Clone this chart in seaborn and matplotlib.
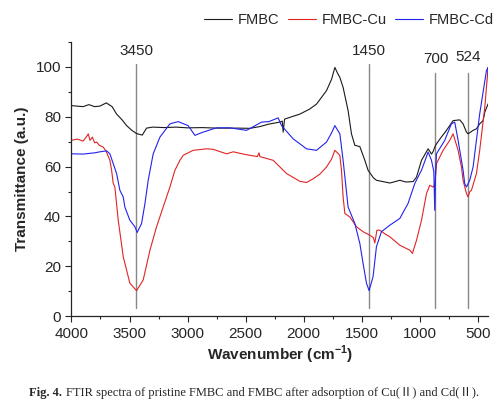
import numpy as np
import pandas as pd
import matplotlib
matplotlib.use("Agg")
import matplotlib.pyplot as plt
import seaborn as sns

# values (wavenumber in cm-1, transmittance in a.u.)
fmbc_wn = [4000, 3900, 3850, 3800, 3755, 3700, 3650, 3611, 3560, 3525, 3480, 3439, 3390, 3353, 3300,
           3200, 3100, 3000, 2875, 2750, 2570, 2464, 2378, 2300, 2206, 2185, 2177, 2165, 2100, 2034,
           1950, 1890, 1804, 1760, 1732, 1710, 1689, 1661, 1618, 1589, 1560, 1517, 1474, 1446, 1400,
           1374, 1320, 1259, 1210, 1173, 1120, 1058, 1029, 986, 929, 900, 886, 870, 857, 820, 771,
           714, 657, 628, 599, 585, 542, 513, 485, 456, 441, 413]
fmbc_t = [84.4, 84.0, 84.8, 84.0, 84.2, 85.5, 84.0, 81.0, 78.5, 76.4, 74.5, 73.2, 72.6, 75.4, 75.8,
          75.6, 75.8, 75.5, 75.6, 75.4, 75.4, 75.3, 76.0, 77.0, 77.8, 78.2, 73.8, 79.0, 80.0, 81.0,
          83.0, 85.0, 90.4, 95.0, 99.7, 97.5, 95.7, 91.7, 82.4, 73.1, 68.5, 68.0, 62.5, 58.5, 55.5,
          54.5, 54.0, 53.4, 54.0, 54.5, 53.8, 54.0, 55.8, 62.5, 67.1, 65.0, 66.0, 68.0, 69.1, 71.5, 74.5,
          78.4, 78.7, 77.1, 73.8, 73.1, 74.5, 75.1, 77.1, 78.4, 81.8, 85.1]

cu_wn = [4000, 3950, 3900, 3870, 3855, 3840, 3820, 3800, 3783, 3760, 3726, 3700, 3669, 3654, 3640,
         3626, 3597, 3554, 3497, 3439, 3382, 3324, 3267, 3210, 3152, 3109, 3066, 3038, 2952, 2837,
         2780, 2664, 2607, 2500, 2400, 2385, 2378, 2263, 2148, 2034, 1976, 1919, 1860, 1804, 1760,
         1732, 1710, 1689, 1675, 1661, 1646, 1603, 1546, 1489, 1431, 1400, 1388, 1370, 1345, 1300, 1259,
         1173, 1087, 1064, 1029, 986, 943, 915, 886, 870, 857, 800, 743, 714, 671, 642, 628, 599,
         585, 570, 556, 513, 485, 441, 413]
cu_t = [70.5, 71.0, 70.2, 72.0, 73.1, 70.5, 71.8, 69.5, 69.8, 68.5, 67.8, 66.0, 62.5, 58.5, 53.2,
        51.8, 38.5, 23.9, 13.3, 10.3, 14.6, 26.5, 35.9, 43.8, 51.8, 58.5, 62.5, 64.5, 66.5, 67.1,
        66.9, 65.1, 65.9, 64.8, 64.0, 65.5, 64.0, 62.5, 57.2, 54.1, 53.6, 55.1, 57.0, 59.8, 63.0,
        66.5, 65.5, 64.5, 58.5, 47.8, 41.2, 39.8, 35.9, 33.9, 32.5, 31.5, 29.4, 34.5, 34.5, 33.0, 31.9,
        28.5, 26.5, 25.2, 30.5, 38.5, 49.2, 52.5, 51.8, 53.0, 61.2, 66.5, 70.5, 73.1, 66.5, 59.8, 54.5, 49.2,
        47.8, 50.0, 50.5, 57.2, 66.5, 83.8, 99.7]

cd_wn = [4000, 3900, 3800, 3755, 3697, 3669, 3611, 3583, 3554, 3540, 3497, 3454, 3434, 3396, 3367,
         3339, 3296, 3238, 3152, 3081, 2995, 2937, 2866, 2751, 2636, 2492, 2363, 2300, 2220, 2191,
         2091, 1976, 1890, 1804, 1760, 1732, 1689, 1661, 1618, 1560, 1517, 1489, 1460, 1437, 1403,
         1374, 1331, 1259, 1173, 1102, 1044, 1001, 986, 929, 900, 880, 872, 865, 857, 786, 729,
         700, 671, 628, 614, 599, 571, 542, 485, 427, 413, 405]
cd_t = [65.1, 65.0, 65.5, 65.9, 66.3, 65.1, 57.2, 50.5, 47.8, 43.8, 38.5, 35.9, 33.6, 37.2, 45.2,
        54.5, 65.1, 71.8, 77.1, 78.0, 76.4, 72.5, 73.8, 75.5, 75.5, 74.5, 77.8, 78.0, 79.5, 76.4,
        71.1, 67.1, 66.5, 69.8, 73.5, 76.4, 73.1, 62.5, 43.8, 37.2, 29.2, 21.2, 13.3, 10.3, 15.9,
        27.9, 33.9, 36.5, 39.2, 45.2, 53.2, 57.2, 58.5, 65.8, 62.5, 58.0, 42.5, 58.0, 65.1, 70.5, 77.1,
        77.8, 70.5, 58.5, 53.2, 51.8, 54.5, 59.8, 81.1, 98.4, 99.7, 86.4]

series_names = ["FMBC", "FMBC-Cu", "FMBC-Cd"]
series_colors = ["#1a1a1a", "#e02424", "#2222ee"]

peak_wn = [3441, 1440, 866, 588]
peak_labels = ["3450", "1450", "700", "524"]
peak_line_top = [101, 101, 97.6, 97.6]
peak_label_y = [103.5, 103.5, 100.3, 101.0]

caption_bold = "Fig. 4."
caption_rest = "FTIR spectra of pristine FMBC and FMBC after adsorption of Cu(Ⅱ) and Cd(Ⅱ)."

df = pd.concat([
    pd.DataFrame({"wn": fmbc_wn, "T": fmbc_t, "sample": series_names[0]}),
    pd.DataFrame({"wn": cu_wn, "T": cu_t, "sample": series_names[1]}),
    pd.DataFrame({"wn": cd_wn, "T": cd_t, "sample": series_names[2]}),
], ignore_index=True)

sns.set_style("ticks")
plt.rcParams["font.family"] = ["Liberation Sans", "DejaVu Sans"]

fig = plt.figure(figsize=(5.03, 4.13), dpi=100)
ax = fig.add_axes([0.142, 0.234, 0.829, 0.665])

sns.lineplot(data=df, x="wn", y="T", hue="sample", palette=series_colors,
             hue_order=series_names, sort=False, estimator=None, lw=0.8, ax=ax)

for wn, lab, top, ly in zip(peak_wn, peak_labels, peak_line_top, peak_label_y):
    ax.plot([wn, wn], [3.5, top], color="#888888", lw=1.0, zorder=1)
    ax.text(wn, ly, lab, ha="center", va="bottom", fontsize=11)

ax.set_xlim(4000, 410)
ax.set_ylim(0, 110)
ax.set_xticks([4000, 3500, 3000, 2500, 2000, 1500, 1000, 500])
ax.set_yticks([0, 20, 40, 60, 80, 100])
ax.set_xticks(np.arange(3750, 400, -500), minor=True)
ax.set_yticks([10, 30, 50, 70, 90, 110], minor=True)
ax.tick_params(axis="both", which="major", labelsize=11, length=4, width=0.8, direction="out")
ax.tick_params(axis="both", which="minor", length=2.5, width=0.8, direction="out")
sns.despine(ax=ax)
for s in ["left", "bottom"]:
    ax.spines[s].set_linewidth(0.9)

ax.set_xlabel("Wavenumber (cm$^{\\mathregular{-1}}$)", fontsize=11, fontweight="bold", labelpad=2)
ax.set_ylabel("Transmittance (a.u.)", fontsize=11, fontweight="bold", labelpad=5)

handles, labels = ax.get_legend_handles_labels()
ax.legend_.remove()
fig.legend(handles, labels, loc="center right", bbox_to_anchor=(0.982, 0.952), ncol=3,
           frameon=False, fontsize=10.5, handlelength=1.9, columnspacing=0.6,
           handletextpad=0.4, borderaxespad=0, borderpad=0)

# caption under the figure: bold "Fig. 4." then the plain text
cap_font = ["Liberation Serif", "Noto Sans CJK SC", "DejaVu Serif"]
t1 = fig.text(0.058, 0.042, caption_bold, fontsize=9, fontweight="bold", family=cap_font)
ax.annotate(caption_rest, xy=(1, 0), xycoords=t1, xytext=(2.5, 0), textcoords="offset points",
            fontsize=9, family=cap_font, va="bottom", ha="left", annotation_clip=False)

fig.savefig("out.png", dpi=100)
